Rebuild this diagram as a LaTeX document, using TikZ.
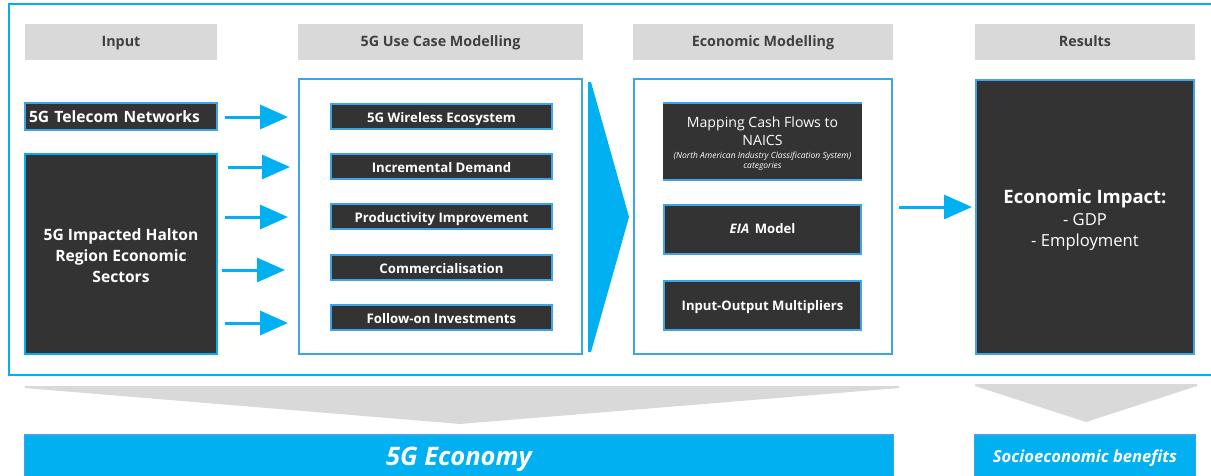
\documentclass[tikz,border=0pt]{standalone}
\usepackage{fontspec}
\setmainfont{Open Sans}
\usetikzlibrary{arrows.meta}
\definecolor{cyanb}{HTML}{00B0F0}
\definecolor{edgeb}{HTML}{3DA5E6}
\definecolor{darkbox}{HTML}{333333}
\definecolor{hdrgray}{HTML}{D9D9D9}
\definecolor{hdrtext}{HTML}{404040}
\newcommand{\fsz}[2]{\fontsize{#1}{#2}\selectfont}
\begin{document}
\begin{tikzpicture}[x=1pt,y=-1pt,
  capc/.style={text height=#1, text depth=0pt},
  hdr/.style={fill=hdrgray, text=hdrtext, font=\bfseries\fsz{14.3}{16}, inner sep=0, minimum height=36pt, capc=9.2pt},
  dbox/.style={fill=darkbox, draw=edgeb, line width=2pt, text=white, inner sep=0, align=center},
  wtext/.style={text=white, inner sep=0, align=center},
  ucbox/.style={dbox, minimum width=221pt, minimum height=25pt, font=\bfseries\fsz{13.2}{15}, capc=12.5pt},
  embox/.style={dbox, minimum width=197pt, minimum height=49pt},
  panel/.style={draw=edgeb, line width=2pt, fill=white, inner sep=0, minimum width=283pt, minimum height=275pt},
  flow/.style={draw=cyanb, line width=3pt, -{Triangle[length=28pt,width=24pt]}},
  bluebar/.style={fill=cyanb, draw=edgeb, line width=1.5pt, text=white, inner sep=0, minimum height=42pt}
  ]
\useasboundingbox (0,0) rectangle (1211,475);
\begin{scope}
\clip (0,0) rectangle (1211,475);
% outer frame
\draw[draw=cyanb, line width=2pt] (9,4) rectangle (1225,375);

% headers
\node[hdr, minimum width=192pt] (hIn) at (121,42) {Input};
\node[hdr, minimum width=285pt] (hUC) at (440.5,42) {5G Use Case Modelling};
\node[hdr, minimum width=260pt] (hEM) at (763,42) {Economic Modelling};
\node[hdr, minimum width=220pt] (hRes) at (1085,42) {Results};

% input boxes
\node[dbox, inner xsep=4pt, text width=184pt, align=left, minimum height=27pt, font=\bfseries\fsz{15.6}{18}, capc=12.2pt] (tel) at (121,116.5) {5G Telecom Networks};
\node[dbox, draw=cyanb, minimum width=192pt, minimum height=200pt] (halton) at (121,254) {};
\node[wtext, font=\bfseries\fsz{15.6}{21}] (haltonT) at ([yshift=-2pt]halton.center) {5G Impacted Halton\\Region Economic\\Sectors};

% use case panel
\node[panel] (uc) at (440.5,216.5) {};
\node[ucbox] (u1) at (441.5,116.5) {5G Wireless Ecosystem};
\node[ucbox] (u2) at (441.5,166.5) {Incremental Demand};
\node[ucbox] (u3) at (441.5,216.5) {Productivity Improvement};
\node[ucbox] (u4) at (441.5,267.5) {Commercialisation};
\node[ucbox] (u5) at (441.5,317.5) {Follow-on Investments};

% flow arrows into use cases
\coordinate (s1) at (225,117); \coordinate (e1) at (288,117);
\coordinate (s2) at (228,167); \coordinate (e2) at (290,167);
\coordinate (s3) at (225,217); \coordinate (e3) at (288,217);
\coordinate (s4) at (222,270); \coordinate (e4) at (285,270);
\coordinate (s5) at (225,323); \coordinate (e5) at (288,323);
\foreach \i in {1,...,5} \draw[flow] (s\i) -- (e\i);

% big chevron
\fill[cyanb] (588,82) -- (591,82) -- (629,217) -- (591,352) -- (588,352) -- cycle;

% economic modelling panel
\node[panel, minimum width=258pt] (em) at (763,216.5) {};
\node[fill=darkbox, inner sep=0, minimum width=199pt, minimum height=77pt] (m1) at (762.5,141.5) {};
\node[wtext, font=\fsz{14.1}{18}] (m1T) at ([yshift=-2.5pt]m1.center)
  {Mapping Cash Flows to\\NAICS\\[-5pt]{\itshape\fsz{8.5}{10}(North American Industry Classification System)}\\[-8pt]{\itshape\fsz{8.5}{10}categories}};
\draw[edgeb, line width=2pt] (m1.north west) -- (m1.north east);
\draw[edgeb, line width=2pt] (m1.south west) -- (m1.south east);
\node[embox, font=\bfseries\fsz{13.1}{15}, capc=7pt] (m2) at (762.5,229.5) {\textit{EIA}\, Model};
\node[embox, font=\bfseries\fsz{13.1}{15}, capc=9.4pt] (m3) at (762.5,305.5) {Input-Output Multipliers};

% results
\node[dbox, minimum width=218pt, minimum height=274pt] (res) at (1085,217) {};
\node[wtext, font=\fsz{16.6}{21.5}] (resT) at ([yshift=-3pt]res.center)
  {{\bfseries\fontsize{18.5}{21.5}\selectfont Economic Impact:}\\- GDP\\- Employment};
\coordinate (s6) at (899,207); \coordinate (e6) at (972,207);
\draw[flow] (s6) -- (e6);

% bottom chevrons
\fill[hdrgray] (25,386) -- (899,386) -- (899,388) -- (460,424) -- (25,388) -- cycle;
\fill[hdrgray] (975,384) -- (1197,384) -- (1197,386) -- (1086,422) -- (975,386) -- cycle;

% bottom bars
\node[bluebar, minimum width=869pt, font=\bfseries\itshape\fsz{25.5}{28}, capc=19.8pt] (eco) at (459,456) {5G Economy};
\node[bluebar, minimum width=221pt, font=\bfseries\itshape\fsz{16.6}{18}, capc=13.4pt] (soc) at (1085,456) {Socioeconomic benefits};
\end{scope}
\end{tikzpicture}
\end{document}
